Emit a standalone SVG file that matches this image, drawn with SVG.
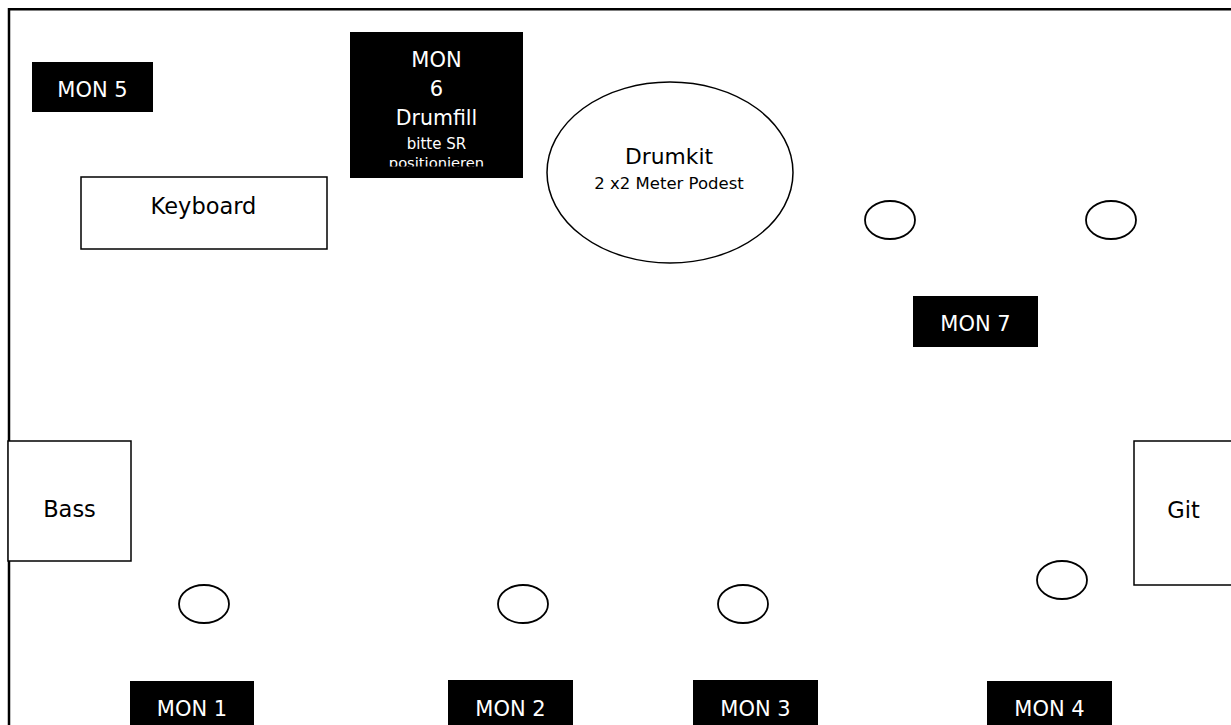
<svg xmlns="http://www.w3.org/2000/svg" width="1231" height="725" viewBox="0 0 1231 725">
<style>
text{font-family:"DejaVu Sans","Liberation Sans",sans-serif;text-anchor:middle}
.mon{fill:#000}
.mt{fill:#fff;font-size:21px}
.box{fill:#fff;stroke:#000;stroke-width:1.5}
.spk{fill:#fff;stroke:#000;stroke-width:1.8}
.lbl{fill:#000;font-size:22.5px}
</style>
<defs>
<clipPath id="clip6"><rect x="350" y="32" width="173" height="134.5"/></clipPath>
</defs>
<rect x="0" y="0" width="1231" height="725" fill="#fff"/>
<g id="stage">
<path d="M9 740 V9.3 H1240" fill="none" stroke="#000" stroke-width="2.5"/>
</g>
<g id="connectors"/>
<g id="mon5"><rect class="mon" x="32" y="62" width="121" height="50"/><text class="mt" x="92.5" y="97">MON 5</text></g>
<g id="mon6">
<rect class="mon" x="350" y="32" width="173" height="146"/>
<g clip-path="url(#clip6)" fill="#fff">
<text class="mt" x="436.5" y="66.5">MON</text>
<text class="mt" x="436.5" y="96">6</text>
<text class="mt" x="436.5" y="124.5" style="font-size:20.5px">Drumfill</text>
<text x="436.5" y="148.5" style="font-size:15px" fill="#fff">bitte SR</text>
<text x="436.5" y="168" style="font-size:14.7px" fill="#fff">positionieren</text>
</g>
</g>
<g id="keyboard"><rect class="box" x="81" y="177" width="246" height="72"/><text class="lbl" x="203.5" y="213.5">Keyboard</text></g>
<g id="drumkit"><ellipse class="box" cx="670" cy="172.5" rx="123" ry="90.5"/><text class="lbl" x="669" y="164" style="font-size:21.8px">Drumkit</text><text x="669" y="189" style="font-size:16.5px">2 x2 Meter Podest</text></g>
<g id="spk1"><ellipse class="spk" cx="890" cy="220" rx="25" ry="19"/></g>
<g id="spk2"><ellipse class="spk" cx="1111" cy="220" rx="25" ry="19"/></g>
<g id="mon7"><rect class="mon" x="913" y="296" width="125" height="51"/><text class="mt" x="975.5" y="331">MON 7</text></g>
<g id="bass"><rect class="box" x="8" y="441" width="123" height="120"/><text class="lbl" x="69.5" y="517.3">Bass</text></g>
<g id="git"><rect class="box" x="1134" y="441" width="110" height="144"/><text class="lbl" x="1183.5" y="518">Git</text></g>
<g id="spk3"><ellipse class="spk" cx="204" cy="604" rx="25" ry="19"/></g>
<g id="spk4"><ellipse class="spk" cx="523" cy="604" rx="25" ry="19"/></g>
<g id="spk5"><ellipse class="spk" cx="743" cy="604" rx="25" ry="19"/></g>
<g id="spk6"><ellipse class="spk" cx="1062" cy="580" rx="25" ry="19"/></g>
<g id="mon1"><rect class="mon" x="130" y="681" width="124" height="50"/><text class="mt" x="192" y="715.5">MON 1</text></g>
<g id="mon2"><rect class="mon" x="448" y="680" width="125" height="51"/><text class="mt" x="510.5" y="715.5">MON 2</text></g>
<g id="mon3"><rect class="mon" x="693" y="680" width="125" height="51"/><text class="mt" x="755.5" y="715.5">MON 3</text></g>
<g id="mon4"><rect class="mon" x="987" y="681" width="125" height="50"/><text class="mt" x="1049.5" y="715.5">MON 4</text></g>
</svg>
